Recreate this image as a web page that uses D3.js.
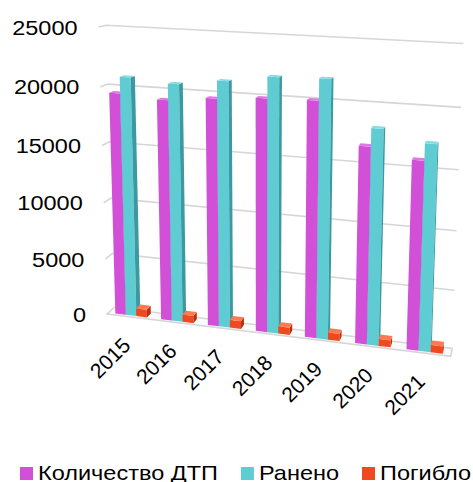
<!DOCTYPE html>
<html>
<head>
<meta charset="utf-8">
<script src="https://cdnjs.cloudflare.com/ajax/libs/d3/7.8.5/d3.min.js"></script>
<style>
  html, body { margin: 0; padding: 0; background: #fff; }
  text { font-family: "Liberation Sans", Arial, sans-serif; fill: #000; }
</style>
</head>
<body>
<div id="chart"></div>
<script>
// data
const years = ["2015", "2016", "2017", "2018", "2019", "2020", "2021"];
const accidents = [19500, 19200, 19600, 19900, 20000, 16600, 15800];
const injured = [20900, 20600, 21100, 21700, 21800, 18100, 17200];
const killed = [700, 650, 680, 640, 620, 600, 630];
const seriesNames = ["Количество ДТП", "Ранено", "Погибло"];
const yTicks = [0, 5000, 10000, 15000, 20000, 25000];

drawchart()

function drawchart() {
	const W = 473, H = 482;

	const svg = d3.select("#chart")
		.append("svg")
		.attr("width", W)
		.attr("height", H);

	// perspective camera: screen point of the front-left floor corner and the
	// three vanishing points (category axis, value axis, depth axis)
	const cam = {
		o: [107, 314],
		vx: [-3900, -180], kx: -0.079,
		vy: [260, 5500], ky: -0.05244,
		vz: [527, -76], kz: 0.01695
	};

	function project(X, Y, Z) {
		const u = cam.o[0] + X * cam.kx * cam.vx[0] + Y * cam.ky * cam.vy[0] + Z * cam.kz * cam.vz[0];
		const v = cam.o[1] + X * cam.kx * cam.vx[1] + Y * cam.ky * cam.vy[1] + Z * cam.kz * cam.vz[1];
		const w = 1 + X * cam.kx + Y * cam.ky + Z * cam.kz;
		return [u / w, v / w];
	}
	const pts = arr => arr.map(p => project(p[0], p[1], p[2]).join(",")).join(" ");

	// world scales (unit cube)
	const x = d3.scaleBand()
		.domain(years)
		.range([0, 1])
		.paddingInner(0.307)
		.paddingOuter(0.1535);
	const xs = d3.scaleBand()
		.domain(seriesNames)
		.range([0, x.bandwidth()]);
	const y = d3.scaleLinear()
		.domain([0, 25000])
		.range([0, 1]);
	const zFront = 0.2, zBack = 0.8;

	const color = d3.scaleOrdinal()
		.domain(seriesNames)
		.range(["#d150d7", "#5fcbd3", "#f0481f"]);
	const sideColor = d3.scaleOrdinal()
		.domain(seriesNames)
		.range(["#a43aa9", "#3b9aa1", "#b8300f"]);
	const topColor = d3.scaleOrdinal()
		.domain(seriesNames)
		.range(["#df78e3", "#86dde3", "#ff7a52"]);

	const grid = svg.append("g")
		.attr("fill", "none")
		.attr("stroke", "#d6d6d6")
		.attr("stroke-width", 1.6);

	// floor
	grid.append("polygon")
		.attr("points", pts([[0, 0, 0], [1, 0, 0], [1, 0, 1], [0, 0, 1]]))
		.attr("fill", "#fbfbfb");

	// back wall and side wall gridlines
	grid.selectAll(".gl")
		.data(yTicks.filter(d => d > 0))
		.join("polyline")
		.attr("class", "gl")
		.attr("points", d => pts([[0, y(d), 0], [0, y(d), 1], [1, y(d), 1]]));

	// y axis labels
	const yAxis = svg.append("g").attr("class", "y-axis");
	yAxis.selectAll("text")
		.data(yTicks)
		.join("text")
		.attr("transform", d => {
			const p = project(0, y(d), 0);
			return `translate(${p[0] - 21},${p[1]}) scale(1.12,1)`;
		})
		.attr("text-anchor", "end")
		.attr("dy", "0.36em")
		.style("font-size", "21px")
		.text(d => d);

	// bars
	const bars = [];
	years.forEach((yr, i) => {
		[accidents, injured, killed].forEach((arr, s) => {
			bars.push({ year: yr, series: seriesNames[s], value: arr[i] });
		});
	});

	const bar = svg.append("g")
		.selectAll("g")
		.data(bars)
		.join("g");

	function corners(d) {
		const x0 = x(d.year) + xs(d.series), x1 = x0 + xs.bandwidth();
		const y1 = y(d.value);
		return { x0, x1, y1 };
	}

	bar.append("polygon")
		.attr("points", d => {
			const c = corners(d);
			return pts([[c.x0, 0, zFront], [c.x1, 0, zFront], [c.x1, c.y1, zFront], [c.x0, c.y1, zFront]]);
		})
		.attr("fill", d => color(d.series));
	bar.append("polygon")
		.attr("points", d => {
			const c = corners(d);
			return pts([[c.x1, 0, zFront], [c.x1, 0, zBack], [c.x1, c.y1, zBack], [c.x1, c.y1, zFront]]);
		})
		.attr("fill", d => sideColor(d.series));
	bar.append("polygon")
		.attr("points", d => {
			const c = corners(d);
			return pts([[c.x0, c.y1, zFront], [c.x1, c.y1, zFront], [c.x1, c.y1, zBack], [c.x0, c.y1, zBack]]);
		})
		.attr("fill", d => topColor(d.series));

	// category labels
	svg.append("g")
		.attr("class", "x-axis")
		.selectAll("text")
		.data(years)
		.join("text")
		.attr("transform", d => {
			const p = project(x(d) + x.bandwidth() / 2, 0, 0);
			return `translate(${p[0] + 2},${p[1] + 30}) rotate(-45)`;
		})
		.attr("text-anchor", "end")
		.style("font-size", "21px")
		.text(d => d);

	// legend
	const legend = svg.append("g")
		.attr("id", "legend")
		.attr("transform", `translate(20,480)`);
	let lx = 0;
	seriesNames.forEach(name => {
		const item = legend.append("g").attr("transform", `translate(${lx},0)`);
		item.append("rect")
			.attr("x", 0)
			.attr("y", -13)
			.attr("width", 13)
			.attr("height", 13)
			.attr("fill", color(name));
		const t = item.append("text")
			.attr("transform", "translate(18,0) scale(1.12,1)")
			.style("font-size", "21px")
			.text(name);
		lx += 18 + t.node().getComputedTextLength() * 1.12 + 23;
	});
}
</script>
</body>
</html>
